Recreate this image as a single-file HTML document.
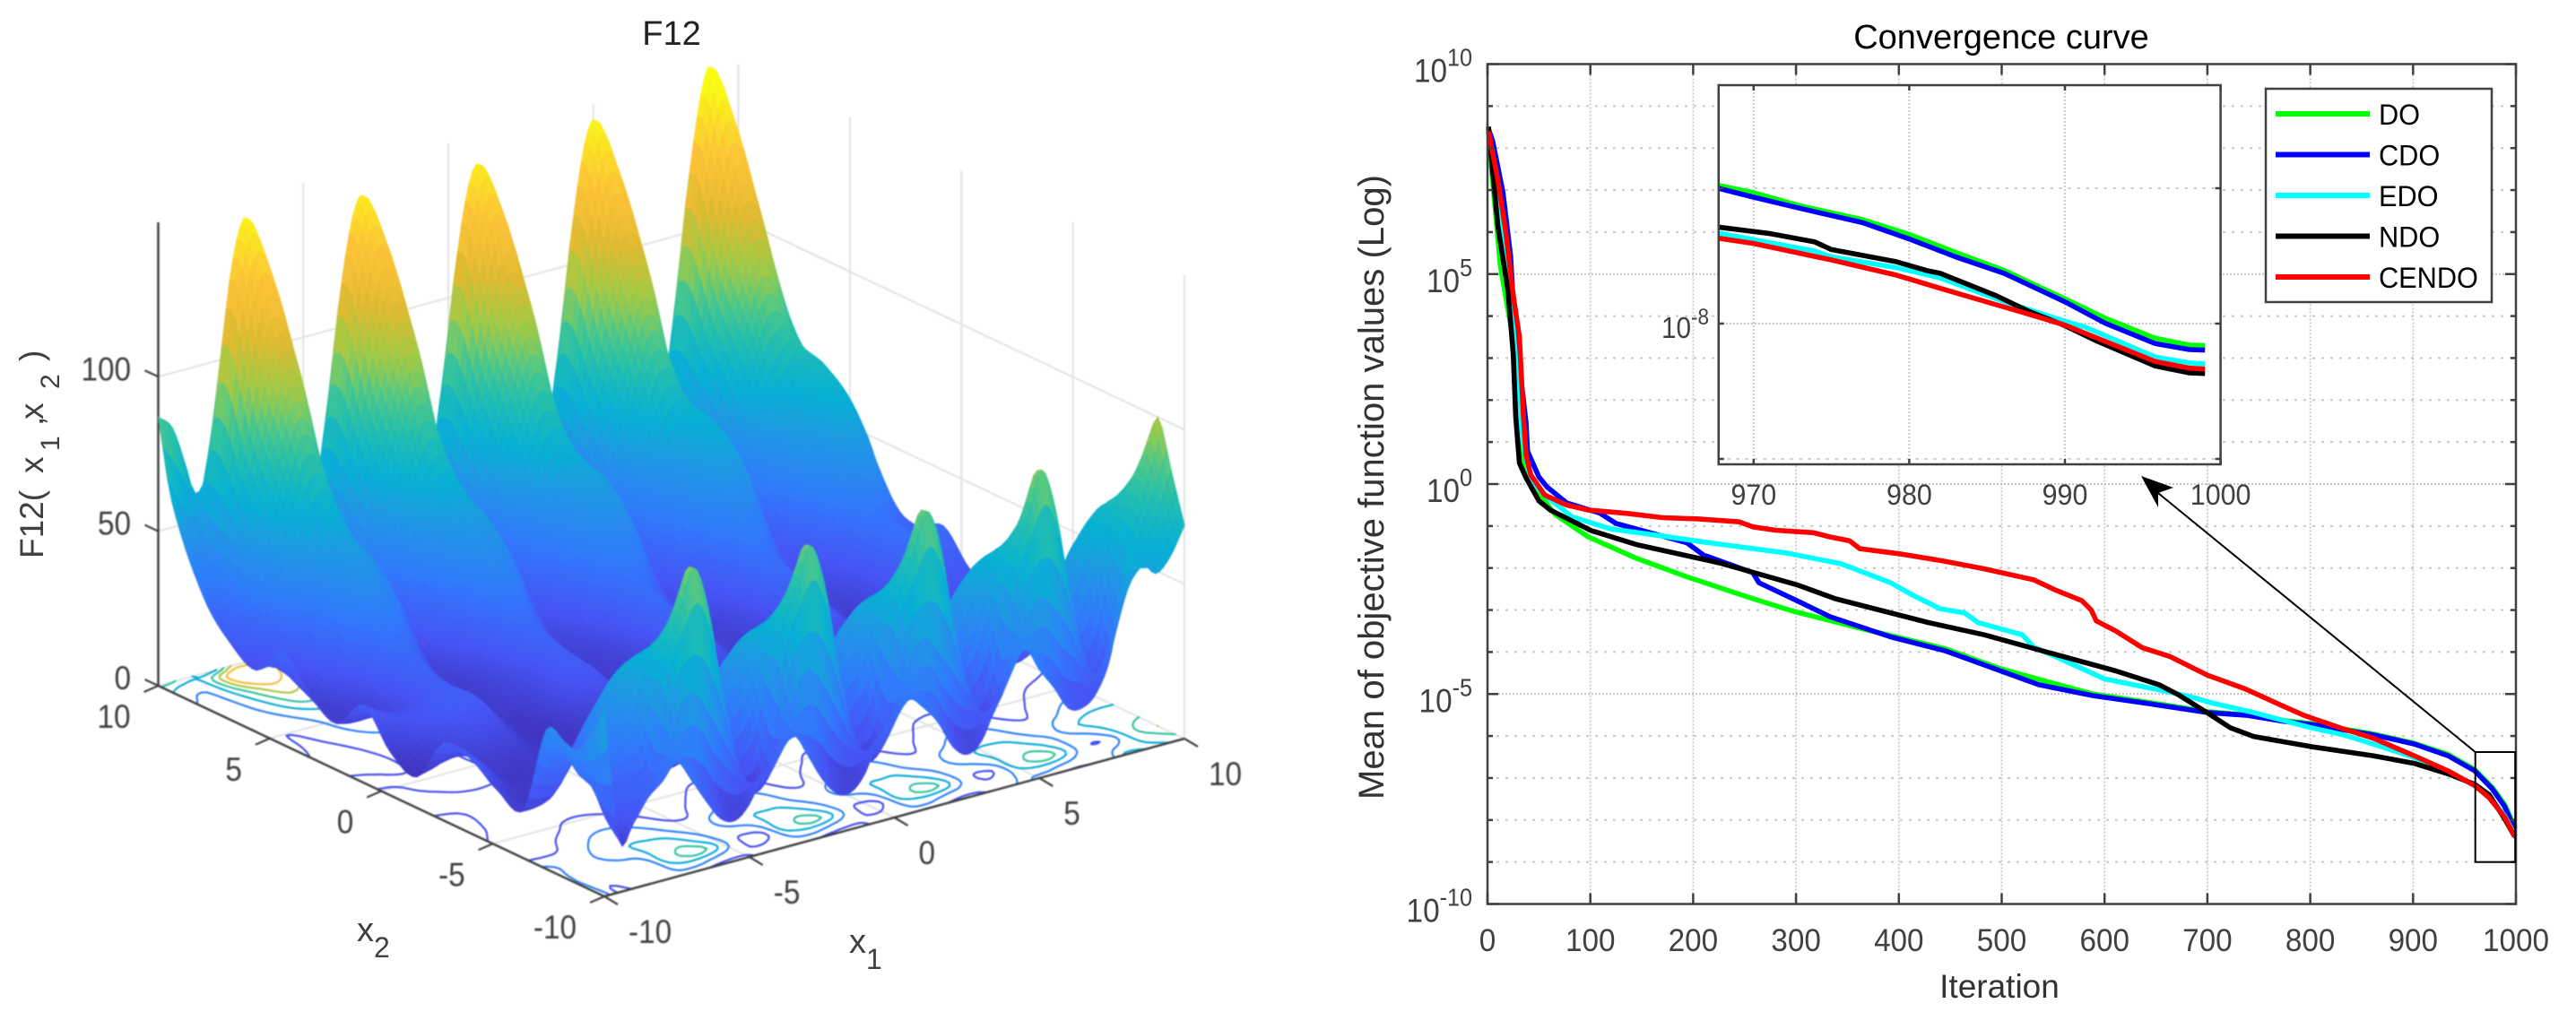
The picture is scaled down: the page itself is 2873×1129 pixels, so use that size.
<!DOCTYPE html>
<html lang="en">
<head>
<meta charset="utf-8">
<title>F12 surface and convergence curve</title>
<style>
html,body{margin:0;padding:0;background:#fff;}
svg{display:block;}
text{font-family:"Liberation Sans",sans-serif;}
#left{filter:blur(0.7px);}
</style>
</head>
<body>
<svg id="fig" xmlns="http://www.w3.org/2000/svg" width="2873" height="1129" viewBox="0 0 2873 1129">
  <rect x="0" y="0" width="2873" height="1129" fill="#fff"/>
  <g id="left"></g>
  <g id="right"></g>

  <text x="749" y="50" font-size="38" text-anchor="middle" fill="#222">F12</text>
  <text transform="translate(48,623) rotate(-90)" font-size="37" fill="#404040"><tspan x="0">F12(</tspan><tspan x="95">x</tspan><tspan x="120" dy="18" font-size="30">1</tspan><tspan x="148" dy="-18">,</tspan><tspan x="155">x</tspan><tspan x="189" dy="18" font-size="30">2</tspan><tspan x="220" dy="-18">)</tspan></text>
  <text x="398" y="1050" font-size="38" fill="#404040">x<tspan dy="18" font-size="32">2</tspan></text>
  <text x="947" y="1063" font-size="38" fill="#404040">x<tspan dy="18" font-size="32">1</tspan></text>

  <text x="2232" y="54" font-size="38" text-anchor="middle" fill="#000">Convergence curve</text>
  <text transform="translate(1543,892) rotate(-90)" font-size="40" textLength="697" lengthAdjust="spacingAndGlyphs" fill="#333">Mean of objective function values (Log)</text>
  <text x="2230" y="1113" font-size="37" text-anchor="middle" fill="#333">Iteration</text>
</svg>

<script>
/* ---------- surface data (heights) ---------- */
const x1Ticks = [-10, -5, 0, 5, 10];
const x2Ticks = [10, 5, 0, -5, -10];
const zTicks = [0, 50, 100];
const contourLevels = [20, 40, 60, 80, 100, 120];
const x1Knots = [-10,-9.5,-9,-8.5,-8,-7.5,-7,-6.5,-6,-5.5,-5,-4.5,-4,-3.5,-3,-2.5,-2,-1.5,-1,-0.5,0,0.5,1,1.5,2,2.5,3,3.5,4,4.5,5,5.5,6,6.5,7,7.5,8,8.5,9,9.5,10];
const x2Knots = [-10,-9.4,-8.8,-8.2,-7.4,-6.4,-5.2,-4,-2.8,-1.6,-0.4,0.8,2,3.2,4.4,5.6,6.8,8,9.4,10];
const surfaceHeights = [
[60,17,21,28,32,37,30,22,15,13,17,26,31,36,28,19,13,12,17,28,32,37,33,27,18,14,17,27,36,43,35,28,20,19,23,35,65,62,56,60,69],
[50,22,25,28,30,33,50,55,48,38,28,20,20,28,45,52,46,36,26,20,20,30,47,52,46,38,30,23,24,38,50,55,50,42,30,26,38,50,62,72,85],
[43,30,27,28,28,30,65,79,92,78,48,22,15,23,63,76,89,76,47,22,15,24,63,76,90,78,48,24,17,27,65,79,93,78,48,24,20,37,67,85,100],
[44,32,30,34,38,42,62,72,78,62,42,28,30,38,60,70,75,62,42,28,30,38,60,70,76,64,44,30,33,44,62,72,78,66,46,32,35,50,68,78,85],
[45,36,34,38,48,56,61,61,58,44,33,32,48,54,59,59,57,43,33,32,48,54,59,59,58,44,35,34,50,57,62,63,61,48,38,38,54,62,68,69,70],
[16,16,18,26,36,44,48,46,38,26,18,18,28,38,46,48,44,32,20,18,28,38,46,48,44,32,22,20,30,40,48,50,46,34,24,22,32,42,50,54,54],
[18,14,12,14,18,24,26,24,20,15,12,12,14,20,26,28,24,18,13,12,15,20,26,28,25,18,14,13,16,22,28,30,27,20,15,14,18,24,30,34,36],
[24,20,15,12,12,13,14,14,13,12,11,11,12,13,14,15,14,12,11,11,12,14,15,15,14,13,12,12,13,15,16,17,16,14,13,13,14,16,18,20,22],
[25,22,18,14,13,13,13,12,11,10,10,11,12,13,13,12,11,10,10,11,12,13,13,12,11,11,11,12,13,14,14,13,12,12,12,13,14,15,16,17,18],
[10,12,15,18,19,19,18,14,11,10,11,14,16,17,17,14,11,10,11,14,16,17,17,14,11,10,12,15,17,18,18,15,12,11,12,15,18,19,20,20,20],
[14,18,22,24,26,26,24,18,13,11,13,17,22,24,23,18,13,11,13,17,22,24,23,18,14,12,14,18,23,25,24,19,14,12,15,20,25,27,26,24,22],
[25,22,20,20,24,26,24,18,15,14,15,17,22,27,25,18,15,14,15,18,24,29,26,19,16,15,16,19,26,31,28,20,17,15,17,21,28,34,32,30,32],
[15,14,15,18,25,30,27,19,16,14,15,19,26,32,29,20,16,15,16,20,28,34,30,22,17,16,18,22,30,36,33,25,18,18,20,24,32,36,34,28,28],
[20,14,17,22,31,36,37,30,21,15,18,24,32,38,40,32,23,17,20,26,33,38,40,36,26,19,23,28,36,42,44,40,29,22,26,32,40,44,50,46,33],
[30,18,22,29,39,46,49,43,36,19,24,31,39,46,49,46,38,21,26,32,40,46,49,50,42,23,29,36,44,50,54,56,47,26,32,40,48,52,60,62,52],
[20,23,28,37,46,52,58,52,45,23,30,39,48,55,60,55,47,25,31,39,47,52,58,57,49,27,34,42,50,56,63,63,54,30,38,48,54,60,70,70,60],
[25,28,38,52,70,85,80,62,45,30,38,52,70,85,80,62,45,30,38,52,70,85,80,62,45,30,38,54,72,88,83,65,47,31,40,58,78,90,86,73,66],
[36,32,44,66,92,112,110,93,62,45,46,68,92,112,110,93,62,45,46,68,92,112,110,93,62,45,46,68,94,115,113,96,64,46,48,72,98,120,118,100,78],
[62,50,50,85,128,147,136,118,90,50,50,85,126,144,134,116,88,50,50,85,126,144,134,116,88,50,50,85,128,148,137,119,90,50,50,88,132,155,143,124,95],
[87,82,67,50,60,100,105,95,68,40,32,45,72,98,103,93,66,40,32,45,72,98,103,93,66,40,32,45,72,100,105,95,68,40,34,48,76,106,110,98,72]
];

/* ---------- convergence data (log10 of mean objective value) ---------- */
const mainXTicks = [0,100,200,300,400,500,600,700,800,900,1000];
const mainYMajor = [10,5,0,-5,-10];
const mainYMinor = [9,8,7,6,4,3,2,1,-1,-2,-3,-4,-6,-7,-8,-9];
const insetXTicks = [970,980,990,1000];
const insetYTicks = [-7,-8,-9];
const insetYLabels = [-8];
const legendNames = ['DO','CDO','EDO','NDO','CENDO'];
const legendColors = ['#00ff00','#0000ff','#00ffff','#000000','#ff0000'];

const doIter = [1,2.5,12.5,20,25,30,36,45,66,98,146,194,253,296,365,445,499,542,589,643,700,739,774,803,861,901,934,960,977,989,998,1000];
const doLog = [8.45,7.9,5.2,4.15,3.45,1.5,0.5,-0.07,-0.73,-1.26,-1.78,-2.21,-2.69,-3.02,-3.45,-3.92,-4.4,-4.69,-5,-5.2,-5.42,-5.5,-5.63,-5.71,-5.95,-6.17,-6.44,-6.8,-7.22,-7.63,-8.12,-8.16];
const cdoIter = [1,5,15,22.5,26,37.5,39,50,58,77,109,125,194,210,258,264,301,333,392,445,499,536,589,643,700,739,774,803,861,901,934,960,977,989,998,1000];
const cdoLog = [8.45,8.17,6.95,5.42,3.9,1.46,0.78,0.17,-0.07,-0.45,-0.69,-0.94,-1.4,-1.69,-2.11,-2.35,-2.78,-3.16,-3.64,-3.97,-4.45,-4.78,-5.04,-5.23,-5.44,-5.51,-5.65,-5.73,-5.97,-6.19,-6.47,-6.83,-7.26,-7.68,-8.18,-8.22];
const edoIter = [1,15,22,27,32,42,55.5,82,120,162,216,290,344,392,413,440,464,477,520,531,557,600,653,681,707,745,800,832,861,901,934,960,975,989,998,1000];
const edoLog = [8.45,6.1,4.6,3.1,1.35,0.1,-0.26,-0.78,-1.07,-1.21,-1.4,-1.64,-1.9,-2.35,-2.64,-2.97,-3.07,-3.3,-3.59,-3.88,-4.16,-4.64,-4.9,-5.05,-5.23,-5.44,-5.8,-5.97,-6.19,-6.51,-6.86,-7.18,-7.47,-7.9,-8.32,-8.35];
const ndoIter = [1,10,20,25,27.5,31,37.5,50,61,101,146,226,301,338,429,483,557,611,653,672,700,722,745,800,861,901,934,960,974,989,998,1000];
const ndoLog = [8.51,6.16,4.6,3.1,1.6,0.5,0.15,-0.4,-0.62,-1.11,-1.45,-1.88,-2.4,-2.73,-3.3,-3.59,-4.09,-4.45,-4.78,-5.02,-5.45,-5.8,-6.01,-6.25,-6.47,-6.65,-6.9,-7.15,-7.4,-7.97,-8.36,-8.4];
const cendoIter = [1,10,17.5,25,31,35,37.5,42,55.5,77,98,136,170,205,245,258,280,317,333,352,362,403,445,483,531,552,578,587,592,611,637,664,700,736,771,794,832,861,901,934,960,974,989,998,1000];
const cendoLog = [8.4,7.25,6.05,4.5,3.5,1.6,0.7,0.22,-0.26,-0.5,-0.62,-0.7,-0.8,-0.83,-0.9,-1.02,-1.1,-1.16,-1.26,-1.35,-1.54,-1.67,-1.84,-2.02,-2.28,-2.52,-2.78,-3,-3.26,-3.5,-3.9,-4.11,-4.55,-4.87,-5.26,-5.51,-5.83,-6.05,-6.47,-6.83,-7.18,-7.47,-7.93,-8.36,-8.4];

const insetDoIter = [967.72,970,973.06,977,980,983,986.1,990,992.6,995.8,998,999];
const insetDoLog = [-6.978,-7.033,-7.132,-7.232,-7.342,-7.475,-7.607,-7.817,-7.96,-8.108,-8.159,-8.163];
const insetCdoLog = [-7.0,-7.066,-7.15,-7.254,-7.375,-7.508,-7.629,-7.839,-7.998,-8.148,-8.192,-8.196];
const insetNdoIter = [967.72,971.1,973.93,975,979.1,981.1,982,985.6,987.6,990,992,995.8,998,999];
const insetNdoLog = [-7.287,-7.336,-7.397,-7.453,-7.541,-7.607,-7.629,-7.795,-7.905,-8.015,-8.126,-8.313,-8.364,-8.369];
const insetEdoIter = [967.72,970,973.93,975,979.1,982,985.6,987.6,990,991.3,995.8,998,999];
const insetEdoLog = [-7.331,-7.38,-7.464,-7.508,-7.585,-7.662,-7.817,-7.894,-7.982,-8.026,-8.247,-8.291,-8.298];
const insetCendoIter = [967.72,970,975,979.1,982,985.6,987.6,990,992,995.8,998,999];
const insetCendoLog = [-7.369,-7.408,-7.53,-7.64,-7.74,-7.861,-7.927,-8.011,-8.104,-8.28,-8.329,-8.336];

/* ---------- helpers ---------- */
const NS = 'http://www.w3.org/2000/svg';
function mk(parent, tag, attrs){
  const el = document.createElementNS(NS, tag);
  for (const k in attrs) el.setAttribute(k, attrs[k]);
  parent.appendChild(el);
  return el;
}
const AXIS = '#404040';

/* ---------- parula colour map ---------- */
const parulaStops = [[.242,.150,.660],[.275,.330,.960],[.190,.480,.985],[.120,.600,.890],[.030,.690,.830],[.150,.750,.670],[.360,.790,.490],[.640,.790,.270],[.870,.730,.190],[.990,.760,.220],[.976,.984,.080]];
const colourHeights = [0,12,30,52,60,72,85,93,119,135,150];
const colourPositions = [0,.04,.15,.30,.38,.46,.57,.66,.86,.93,1];
function parula(t){
  t = Math.max(0, Math.min(1, t)) * 10;
  const i = Math.min(9, Math.floor(t)), f = t - i, a = parulaStops[i], b = parulaStops[i+1];
  return 'rgb(' + [0,1,2].map(c => Math.round(255*(a[c]+(b[c]-a[c])*f))).join(',') + ')';
}
function heightColor(z){
  let i = 0;
  while (i < colourHeights.length-2 && z > colourHeights[i+1]) i++;
  const f = (z-colourHeights[i])/(colourHeights[i+1]-colourHeights[i]);
  return parula(colourPositions[i]+(colourPositions[i+1]-colourPositions[i])*f);
}

/* ---------- 3-D axis function ---------- */
function project(x1, x2, z){
  const u = (x1+10)/20, v = (x2+10)/20;
  return [674 + 647*u - 497.5*v, 1000 - 176*u - 235*v - 3.447*z];
}

/* Hermite interpolation through knots */
function hermite(xs, ys, x){
  let i = 0;
  while (i < xs.length-2 && x > xs[i+1]) i++;
  const h = xs[i+1]-xs[i], t = (x-xs[i])/h;
  const m0 = i>0 ? (ys[i+1]-ys[i-1])/(xs[i+1]-xs[i-1]) : (ys[i+1]-ys[i])/h;
  const m1 = i<xs.length-2 ? (ys[i+2]-ys[i])/(xs[i+2]-xs[i]) : (ys[i+1]-ys[i])/h;
  const t2=t*t, t3=t2*t;
  return (2*t3-3*t2+1)*ys[i] + (t3-2*t2+t)*h*m0 + (-2*t3+3*t2)*ys[i+1] + (t3-t2)*h*m1;
}

/* ---------- left panel ---------- */
(function(){
  const g = document.getElementById('left');
  const wallColor = '#e2e2e2';
  function line3(a, b, color, w, name){
    const p = project(a[0],a[1],a[2]), q = project(b[0],b[1],b[2]);
    const el = mk(g,'line',{x1:p[0],y1:p[1],x2:q[0],y2:q[1],stroke:color,'stroke-width':w});
    
    
  }
  /* walls */
  x1Ticks.slice(1).forEach(t => line3([t,10,0],[t,10,150],wallColor,2,'back-wall-gridline'));
  x2Ticks.slice(1).forEach(t => line3([10,t,0],[10,t,150],wallColor,2,'side-wall-gridline'));
  zTicks.forEach(t => {
    line3([-10,10,t],[10,10,t],wallColor,2,'back-wall-gridline');
    line3([10,10,t],[10,-10,t],wallColor,2,'side-wall-gridline');
  });
  /* floor grid */
  x1Ticks.slice(1,4).forEach(t => line3([t,-10,0],[t,10,0],wallColor,2,'floor-gridline'));
  x2Ticks.slice(1,4).forEach(t => line3([-10,t,0],[10,t,0],wallColor,2,'floor-gridline'));

  /* resample the height grid */
  const nu = 160, nv = 100;
  const vAxis = [], uAxis = [];
  for (let j=0;j<=nv;j++) vAxis.push(-10+20*j/nv);
  for (let i=0;i<=nu;i++) uAxis.push(-10+20*i/nu);
  const perCol = x1Knots.map((_,c) => {
    const colVals = surfaceHeights.map(r => r[c]);
    return vAxis.map(v => hermite(x2Knots, colVals, v));
  });
  const Z = vAxis.map((v,j) => {
    const rowVals = perCol.map(cl => cl[j]);
    return uAxis.map(u => Math.max(4, hermite(x1Knots, rowVals, u)));
  });

  /* contours on the floor (marching squares) */
  contourLevels.forEach(level => {
    let d = '';
    function seg(a,b){
      const p = project(a[0],a[1],0), q = project(b[0],b[1],0);
      d += 'M'+p[0].toFixed(1)+' '+p[1].toFixed(1)+'L'+q[0].toFixed(1)+' '+q[1].toFixed(1);
    }
    for (let j=0;j<nv;j++) for (let i=0;i<nu;i++){
      const a=Z[j][i], b=Z[j][i+1], c=Z[j+1][i+1], e=Z[j+1][i];
      const x0=uAxis[i], x9=uAxis[i+1], y0=vAxis[j], y9=vAxis[j+1];
      const pts=[];
      if ((a<level)!==(b<level)) pts.push([x0+(x9-x0)*(level-a)/(b-a),y0]);
      if ((b<level)!==(c<level)) pts.push([x9,y0+(y9-y0)*(level-b)/(c-b)]);
      if ((e<level)!==(c<level)) pts.push([x0+(x9-x0)*(level-e)/(c-e),y9]);
      if ((a<level)!==(e<level)) pts.push([x0,y0+(y9-y0)*(level-a)/(e-a)]);
      if (pts.length===2) seg(pts[0],pts[1]);
      else if (pts.length===4){ seg(pts[0],pts[1]); seg(pts[2],pts[3]); }
    }
    const path = mk(g,'path',{d:d,fill:'none',stroke:heightColor(level),'stroke-width':2.2,'stroke-linecap':'round'});
    
    
  });

  /* axis lines */
  line3([-10,10,0],[-10,-10,0],AXIS,2.5,'x2-axis-line');
  line3([-10,-10,0],[10,-10,0],AXIS,2.5,'x1-axis-line');
  line3([-10,10,0],[-10,10,150],AXIS,2.5,'z-axis-line');

  /* surface, far to near */
  const sg = mk(g,'g',{});
  
  
  for (let j=nv-1;j>=0;j--) for (let i=nu-1;i>=0;i--){
    const a=project(uAxis[i],vAxis[j],Z[j][i]), b=project(uAxis[i+1],vAxis[j],Z[j][i+1]),
          c=project(uAxis[i+1],vAxis[j+1],Z[j+1][i+1]), e=project(uAxis[i],vAxis[j+1],Z[j+1][i]);
    const col = heightColor((Z[j][i]+Z[j][i+1]+Z[j+1][i+1]+Z[j+1][i])/4);
    const cell = mk(sg,'polygon',{points:[a,b,c,e].map(p=>p[0].toFixed(1)+','+p[1].toFixed(1)).join(' '),fill:col,stroke:col,'stroke-width':0.9,'stroke-linejoin':'round'});
    
    
  }

  /* ticks and labels */
  function tickLabel(x,y,str,anchor,name){
    const t = mk(g,'text',{transform:'translate('+x+','+y+') scale(0.9,1)','font-size':37,fill:AXIS,'text-anchor':anchor});
    t.textContent = str;
    
    
  }
  function tickMark(x,y,dx,dy,name){
    const el = mk(g,'line',{x1:x,y1:y,x2:x+dx,y2:y+dy,stroke:AXIS,'stroke-width':2.2});
    
    
  }
  zTicks.forEach(t => {
    const p = project(-10,10,t);
    tickMark(p[0],p[1],-15,-7,'z-tick');
    tickLabel(146,p[1]+4,String(t),'end','z-tick-label');
  });
  x2Ticks.forEach(t => {
    const p = project(-10,t,0);
    tickMark(p[0],p[1],-16,7,'x2-tick');
    tickLabel(p[0]-31,p[1]+47,String(t),'end','x2-tick-label');
  });
  x1Ticks.forEach(t => {
    const p = project(t,-10,0);
    tickMark(p[0],p[1],15,9,'x1-tick');
    tickLabel(p[0]+27,p[1]+52,String(t),'start','x1-tick-label');
  });
})();

/* ---------- right panel ---------- */
(function(){
  const g = document.getElementById('right');
  const mx = i => 1659 + 1.147*i;
  const my = l => 540 - 46.85*l;
  const ix = i => 1955.8 + 17.36*(i-970);
  const iy = l => 361 - 151*(l+8);
  function ln(x1,y1,x2,y2,attrs,name){
    const el = mk(g,'line',Object.assign({x1:x1,y1:y1,x2:x2,y2:y2},attrs));
    
    
    return el;
  }
  function polyline(xs,ys,fx,fy,color,name){
    const el = mk(g,'polyline',{points:xs.map((x,k)=>fx(x).toFixed(1)+','+fy(ys[k]).toFixed(1)).join(' '),fill:'none',stroke:color,'stroke-width':5.6,'stroke-linejoin':'round'});
    
    
  }
  function powerLabel(x,y,exp,size,expSize,lift,name){
    const t = mk(g,'text',{transform:'translate('+x+','+y+') scale(0.9,1)','font-size':size,fill:AXIS,'text-anchor':'end'});
    const a = mk(t,'tspan',{}); a.textContent = '10';
    const b = mk(t,'tspan',{dy:-lift,'font-size':expSize}); b.textContent = String(exp);
    
    
  }
  const dotH = {stroke:'#c8c8c8','stroke-width':2,'stroke-dasharray':'3 7'};
  const fineH = {stroke:'#c4c4c4','stroke-width':2,'stroke-dasharray':'2 2'};
  const fineV = {stroke:'#cdcdcd','stroke-width':2,'stroke-dasharray':'2 2'};
  const axisS = {stroke:AXIS,'stroke-width':2.5};

  /* grid */
  mainXTicks.slice(1,-1).forEach(t => ln(mx(t),my(10),mx(t),my(-10),fineV,'vertical-gridline'));
  mainYMinor.forEach(t => ln(mx(0),my(t),mx(1000),my(t),dotH,'minor-horizontal-gridline'));
  mainYMajor.slice(1,-1).forEach(t => ln(mx(0),my(t),mx(1000),my(t),fineH,'major-horizontal-gridline'));

  /* series */
  polyline(doIter,doLog,mx,my,legendColors[0],'series-do');
  polyline(cdoIter,cdoLog,mx,my,legendColors[1],'series-cdo');
  polyline(edoIter,edoLog,mx,my,legendColors[2],'series-edo');
  polyline(ndoIter,ndoLog,mx,my,legendColors[3],'series-ndo');
  polyline(cendoIter,cendoLog,mx,my,legendColors[4],'series-cendo');

  /* frame + ticks */
  const frame = mk(g,'rect',{x:mx(0),y:my(10),width:mx(1000)-mx(0),height:my(-10)-my(10),fill:'none',stroke:AXIS,'stroke-width':2.5});
  
  
  mainXTicks.forEach(t => {
    ln(mx(t),my(-10),mx(t),my(-10)-12,axisS,'x-tick');
    ln(mx(t),my(10),mx(t),my(10)+12,axisS,'x-tick-top');
    const lab = mk(g,'text',{transform:'translate('+mx(t)+',1061) scale(0.95,1)','font-size':35,fill:AXIS,'text-anchor':'middle'});
    lab.textContent = String(t);
    
    
  });
  mainYMajor.forEach(t => {
    ln(mx(0),my(t),mx(0)+12,my(t),axisS,'y-tick');
    ln(mx(1000),my(t),mx(1000)-12,my(t),axisS,'y-tick-right');
    powerLabel(1642,my(t)+20,t,37,28,18,'y-tick-label');
  });
  mainYMinor.forEach(t => {
    ln(mx(0),my(t),mx(0)+6,my(t),axisS,'y-minor-tick');
    ln(mx(1000),my(t),mx(1000)-6,my(t),axisS,'y-minor-tick-right');
  });

  /* zoom box + arrow */
  const zoomBox = mk(g,'rect',{x:2760.7,y:839,width:44.5,height:122.7,fill:'none',stroke:'#000','stroke-width':2});
  
  
  ln(2760.7,839,2402,546,{stroke:'#000','stroke-width':2},'zoom-arrow-line');
  const head = mk(g,'polygon',{points:'2388,531 2424,544 2407,550 2407,566',fill:'#000'});
  
  

  /* inset */
  const insetBg = mk(g,'rect',{x:ix(967.75),y:95,width:ix(1000)-ix(967.75),height:423,fill:'#fff',stroke:'none'});
  
  
  insetXTicks.slice(0,-1).forEach(t => ln(ix(t),95,ix(t),518,fineV,'inset-vertical-gridline'));
  insetYTicks.forEach(t => ln(ix(967.75),iy(t),ix(1000),iy(t),t===-8?fineH:dotH,'inset-horizontal-gridline'));
  polyline(insetDoIter,insetDoLog,ix,iy,legendColors[0],'inset-series-do');
  polyline(insetDoIter,insetCdoLog,ix,iy,legendColors[1],'inset-series-cdo');
  polyline(insetEdoIter,insetEdoLog,ix,iy,legendColors[2],'inset-series-edo');
  polyline(insetNdoIter,insetNdoLog,ix,iy,legendColors[3],'inset-series-ndo');
  polyline(insetCendoIter,insetCendoLog,ix,iy,legendColors[4],'inset-series-cendo');
  const insetFrame = mk(g,'rect',{x:ix(967.75),y:95,width:ix(1000)-ix(967.75),height:423,fill:'none',stroke:AXIS,'stroke-width':2.5});
  
  
  insetXTicks.forEach(t => {
    ln(ix(t),518,ix(t),512,axisS,'inset-x-tick');
    ln(ix(t),95,ix(t),101,axisS,'inset-x-tick-top');
    const lab = mk(g,'text',{transform:'translate('+ix(t)+',563) scale(0.95,1)','font-size':32,fill:AXIS,'text-anchor':'middle'});
    lab.textContent = String(t);
    
    
  });
  insetYTicks.forEach(t => {
    ln(ix(967.75),iy(t),ix(967.75)+6,iy(t),axisS,'inset-y-tick');
    ln(ix(1000),iy(t),ix(1000)-6,iy(t),axisS,'inset-y-tick-right');
  });
  insetYLabels.forEach(t => powerLabel(1906,iy(t)+16,t,33,25,15,'inset-y-tick-label'));

  /* legend */
  const legendBox = mk(g,'rect',{x:2527,y:99,width:252,height:238,fill:'#fff',stroke:AXIS,'stroke-width':2.5});
  
  
  const legendRowY = k => 127 + 45.5*k;
  legendNames.forEach((nm,k) => {
    ln(2538,legendRowY(k),2643,legendRowY(k),{stroke:legendColors[k],'stroke-width':6},'legend-swatch');
    const t = mk(g,'text',{transform:'translate(2653,'+(legendRowY(k)+12)+') scale(0.96,1)','font-size':32,fill:'#000'});
    t.textContent = nm;
    
    
  });
})();
</script>
</body>
</html>
